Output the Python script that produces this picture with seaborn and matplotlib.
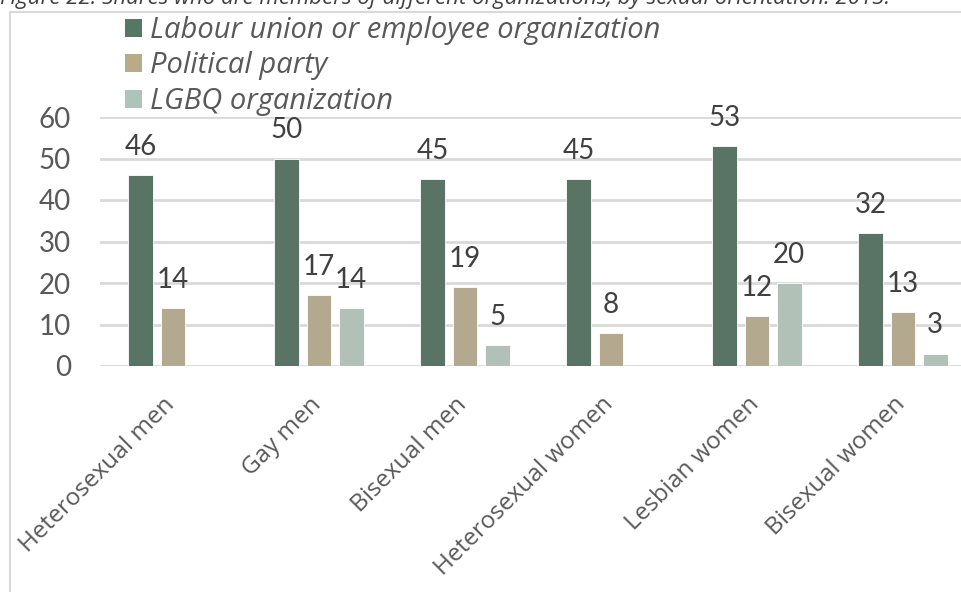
import matplotlib
matplotlib.use("Agg")
import matplotlib.pyplot as plt
import matplotlib.patches as mpatches
import matplotlib.transforms as mtransforms
import numpy as np
import pandas as pd
import seaborn as sns

# Data
groups = ["Heterosexual men", "Gay men", "Bisexual men",
          "Heterosexual women", "Lesbian women", "Bisexual women"]
series = ["Labour union or employee organization", "Political party", "LGBQ organization"]
labour_union = [46, 50, 45, 45, 53, 32]
political_party = [14, 17, 19, 8, 12, 13]
lgbq_org = [np.nan, 14, 5, np.nan, 20, 3]
y_ticks = [0, 10, 20, 30, 40, 50, 60]
title = "Figure 22: Shares who are members of different organizations, by sexual orientation. 2013."

colors = ["#557865", "#B9AB89", "#AEC4B8"]

df = pd.DataFrame({
    "group": groups * 3,
    "series": [series[0]] * 6 + [series[1]] * 6 + [series[2]] * 6,
    "value": labour_union + political_party + lgbq_org,
})

sns.set_theme(style="white")
plt.rcParams["font.family"] = ["Open Sans", "DejaVu Sans"]

W, H = 962, 592
fig = plt.figure(figsize=(W / 100, H / 100), dpi=100)

# axes in pixel terms: left 100, right 962, top 117 (60), bottom 366 (0)
ax = fig.add_axes([100 / W, 1 - 366 / H, (962 - 100) / W, (366 - 117) / H])

sns.barplot(data=df, x="group", y="value", hue="series", hue_order=series,
            order=groups, palette=colors, width=0.658, gap=0.22,
            edgecolor="white", linewidth=0.6, ax=ax, legend=False)

ax.set_ylim(0, 60)
ax.set_xlim(-0.5, 5.5 - 14 / 146)
ax.set_yticks(y_ticks)
ax.set_yticklabels([str(t) for t in y_ticks], fontsize=20, color="#595959",
                   family=["Lato", "DejaVu Sans"])
ax.tick_params(axis="y", length=0, pad=21)
ax.tick_params(axis="x", length=0, pad=19)
ax.set_xticks(range(len(groups)))
ax.set_xticklabels(groups, rotation=45, ha="right", rotation_mode="anchor",
                   fontsize=17.5, color="#595959")
# nudge the rotated category labels left so they end under their tick
shift = mtransforms.ScaledTranslation(-10 / 100, 0, fig.dpi_scale_trans)
for lab in ax.get_xticklabels():
    lab.set_transform(lab.get_transform() + shift)
ax.set_xlabel("")
ax.set_ylabel("")
ax.yaxis.grid(True, color="#D9D9D9", linewidth=2)
ax.set_axisbelow(True)
for s in ax.spines.values():
    s.set_visible(False)

# value labels
for container in ax.containers:
    labels = []
    for v in container.datavalues:
        labels.append("" if np.isnan(v) else f"{v:.0f}")
    ax.bar_label(container, labels=labels, padding=11, fontsize=20,
                 color="#404040", family=["Lato", "DejaVu Sans"])

# legend
handles = [mpatches.Patch(facecolor=c, edgecolor="none") for c in colors]
leg = fig.legend(handles, series, loc="upper left",
                 bbox_to_anchor=(125 / W, 1 - 16 / H), frameon=False,
                 prop={"family": ["Open Sans", "DejaVu Sans"], "style": "italic", "size": 21},
                 handlelength=0.57, handleheight=0.57, handletextpad=0.3,
                 labelspacing=0.22, borderaxespad=0, borderpad=0)
for t in leg.get_texts():
    t.set_color("#595959")

# chart frame
frame = mpatches.Rectangle((10 / W, -0.1), 1.2, 1 - 12 / H + 0.1,
                           transform=fig.transFigure, fill=False,
                           edgecolor="#D9D9D9", linewidth=1.5)
fig.add_artist(frame)

# caption (partially above the canvas)
fig.text(0 / W, 1 - 4 / H, title, ha="left", va="baseline", fontsize=16,
         style="italic", color="#404040")

fig.savefig("out.png", dpi=100)
